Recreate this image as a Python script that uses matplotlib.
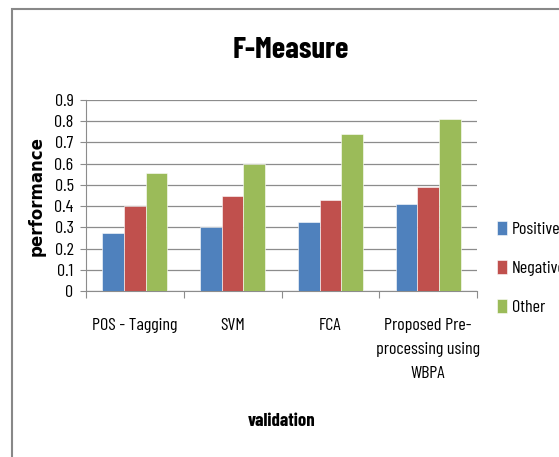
import matplotlib
matplotlib.use("Agg")
import matplotlib.pyplot as plt
from matplotlib.patches import Rectangle
from matplotlib import font_manager as fm
import numpy as np

categories = ["POS - Tagging", "SVM", "FCA", "Proposed Pre-\nprocessing using\nWBPA"]
series_names = ["Positive", "Negative", "Other"]
positive = [0.275, 0.30, 0.325, 0.41]
negative = [0.40, 0.447, 0.428, 0.488]
other = [0.555, 0.60, 0.738, 0.81]
yticks = [0, 0.1, 0.2, 0.3, 0.4, 0.5, 0.6, 0.7, 0.8, 0.9]
colors = ["#4F81BD", "#C0504D", "#9BBB59"]

names = {f.name for f in fm.fontManager.ttflist}
cands = ["Barlow Condensed", "Barlow Semi Condensed", "Asap Condensed", "Liberation Sans"]
fam = [c for c in cands if c in names][0]
plt.rcParams['font.family'] = [fam, 'DejaVu Sans']

W, H = 559, 457
fig = plt.figure(figsize=(W/100, H/100), dpi=100)

# outer frame
fig.add_artist(Rectangle((12/W, -0.05), 1.2, 1 - 9/H + 0.05, transform=fig.transFigure,
                         fill=False, edgecolor="#888888", linewidth=1.5))

ax = fig.add_axes([86/W, 1 - 291/H, (477-86)/W, (291-100)/H])
x = np.arange(len(categories))
bw = 0.222
for i, (vals, c, n) in enumerate(zip([positive, negative, other], colors, series_names)):
    ax.bar(x + (i - 1) * bw, vals, bw, color=c, label=n, zorder=3,
           edgecolor="white", linewidth=0.4)

ax.set_xlim(-0.5, len(categories) - 0.5)
ax.set_ylim(0, 0.9)
ax.set_yticks(yticks)
ax.set_yticklabels([f"{t:g}" for t in yticks], fontsize=13)
ax.yaxis.grid(True, color="#8c8c8c", linewidth=0.9, zorder=0)
ax.set_axisbelow(True)
for s in ["top", "right"]:
    ax.spines[s].set_visible(False)
for s in ["left", "bottom"]:
    ax.spines[s].set_color("#8c8c8c")
ax.tick_params(axis="y", length=4, color="#8c8c8c", pad=5)
ax.set_xticks(np.arange(-0.5, len(categories)))
ax.set_xticklabels([])
ax.tick_params(axis="x", length=5, color="#8c8c8c", direction="out")
for xi, lab in zip(x, categories):
    ax.text(xi, -0.125, lab, ha="center", va="top", fontsize=13,
            transform=ax.transData, linespacing=1.75)

ax.set_ylabel("performance", fontsize=12, fontweight="bold", family=["DejaVu Sans"], labelpad=6)
fig.text(291/W, 1 - 50/H, "F-Measure", ha="center", va="center", fontsize=22, fontweight="bold")
fig.text(282/W, 1 - 421/H, "validation", ha="center", va="center", fontsize=13.5, fontweight="bold")

leg = fig.legend(loc="center left", bbox_to_anchor=(490/W, 1 - 268/H), frameon=False,
                 fontsize=13, handlelength=0.55, handleheight=0.85, handletextpad=0.25,
                 labelspacing=1.25, borderaxespad=0)

fig.savefig("out.png", dpi=100)
